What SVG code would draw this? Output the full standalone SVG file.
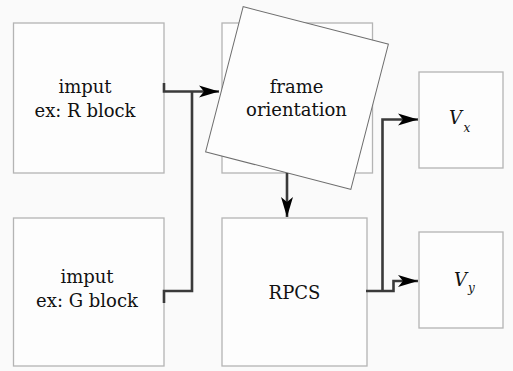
<svg xmlns="http://www.w3.org/2000/svg" width="513" height="371" viewBox="0 0 513 371">
<style>
.box{fill:#fdfdfd;stroke:#b4b4b4;stroke-width:1.3}
.rot{fill:#fdfdfd;stroke:#6e6e6e;stroke-width:1}
.lbl{font-family:"DejaVu Serif","Liberation Serif",serif;font-size:18px;fill:#111;text-anchor:middle}
.it{font-family:"DejaVu Serif","Liberation Serif",serif;font-style:italic;fill:#111}
.con{fill:none;stroke:#3a3a3a;stroke-width:2.6}
</style>
<defs>
<marker id="ah" markerUnits="userSpaceOnUse" markerWidth="22" markerHeight="14" refX="20" refY="6" orient="auto" overflow="visible">
<path d="M0,0 L20,6 L0,12 L5,6 Z" fill="#000"/>
</marker>
</defs>
<rect width="513" height="371" fill="#fafafa"/>
<g id="input-r">
<rect class="box" x="13.5" y="23" width="150.5" height="150"/>
<text class="lbl" x="85" y="93">imput</text>
<text class="lbl" x="85" y="117">ex: R block</text>
</g>
<g id="input-g">
<rect class="box" x="13.5" y="218" width="150.5" height="148"/>
<text class="lbl" x="87" y="283">imput</text>
<text class="lbl" x="87" y="307">ex: G block</text>
</g>
<g id="frame">
<rect class="box" x="222" y="23" width="150.5" height="150"/>
<rect class="rot" x="222" y="23" width="150" height="150" transform="rotate(14.5 297 98)"/>
<text class="lbl" x="296.5" y="92.5">frame</text>
<text class="lbl" x="296.5" y="116">orientation</text>
</g>
<g id="rpcs">
<rect class="box" x="222" y="218" width="145" height="148"/>
<text class="lbl" x="294.5" y="299">RPCS</text>
</g>
<g id="vx">
<rect class="box" x="419" y="72" width="84" height="96"/>
<text class="it" x="449" y="124" font-size="18">V</text>
<text class="it" x="463.5" y="132" font-size="12">x</text>
</g>
<g id="vy">
<rect class="box" x="419" y="232" width="84" height="96"/>
<text class="it" x="454" y="286" font-size="18">V</text>
<text class="it" x="468" y="292" font-size="12">y</text>
</g>
<g id="connectors">
<path class="con" d="M164,83 V91.5 H219" marker-end="url(#ah)"/>
<path class="con" d="M164,303 V291 H192 V91.5"/>
<path class="con" d="M287,173 V217" marker-end="url(#ah)"/>
<path class="con" d="M366,291 H393.5 V281 H418" marker-end="url(#ah)"/>
<path class="con" d="M382.5,291 V119.5 H418" marker-end="url(#ah)"/>
</g>
</svg>
